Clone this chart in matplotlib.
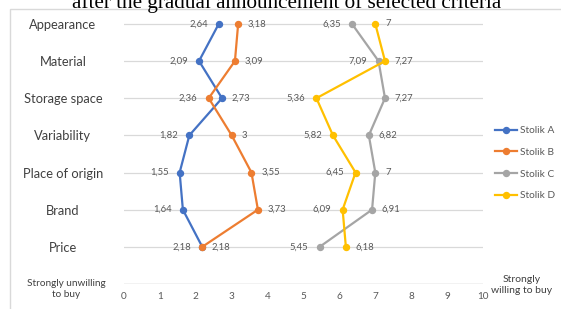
import matplotlib.pyplot as plt

# criteria (top to bottom) and mean scores per table
criteria = ['Appearance', 'Material', 'Storage space', 'Variability',
            'Place of origin', 'Brand', 'Price']
stolik_a = [2.64, 2.09, 2.73, 1.82, 1.55, 1.64, 2.18]
stolik_b = [3.18, 3.09, 2.36, 3.00, 3.55, 3.73, 2.18]
stolik_c = [6.35, 7.09, 7.27, 6.82, 7.00, 6.91, 5.45]
stolik_d = [7.00, 7.27, 5.36, 5.82, 6.45, 6.09, 6.18]
series_names = ['Stolik A', 'Stolik B', 'Stolik C', 'Stolik D']
x_ticks = list(range(0, 11))

colors = ['#4472C4', '#ED7D31', '#A5A5A5', '#FFC000']
# which side of the point each data label sits on
sides = [
    ['L', 'L', 'R', 'L', 'L', 'L', 'L'],
    ['R', 'R', 'L', 'R', 'R', 'R', 'R'],
    ['L', 'L', 'R', 'R', 'R', 'R', 'L'],
    ['R', 'R', 'L', 'L', 'L', 'L', 'R'],
]

plt.rcParams['font.family'] = ['Lato', 'DejaVu Sans']

fig = plt.figure(figsize=(5.61, 3.09), dpi=100)
ax = fig.add_axes([124 / 561, 25 / 309, 359 / 561, 275 / 309])

ypos = list(range(len(criteria), 0, -1))

# light horizontal gridlines at each criterion
for y in ypos:
    ax.axhline(y, color='#D9D9D9', lw=0.9, zorder=0)
ax.axhline(0, color='#BFBFBF', lw=1.0, zorder=0)

all_series = [stolik_a, stolik_b, stolik_c, stolik_d]
for vals, name, col, sd in zip(all_series, series_names, colors, sides):
    ax.plot(vals, ypos, color=col, lw=1.6, marker='o', markersize=4.3,
            label=name, zorder=3)
    for v, y, s in zip(vals, ypos, sd):
        txt = ('%g' % v).replace('.', ',')
        if s == 'L':
            ax.annotate(txt, (v, y), xytext=(-8, 0), textcoords='offset points',
                        ha='right', va='center', fontsize=6.8, color='#595959')
        else:
            ax.annotate(txt, (v, y), xytext=(7, 0), textcoords='offset points',
                        ha='left', va='center', fontsize=6.8, color='#595959')

ax.set_xlim(0, 10)
ax.set_ylim(0, 7.4)
ax.set_xticks(x_ticks)
ax.tick_params(axis='x', length=0, pad=6, labelsize=7.2, labelcolor='#595959')
ax.set_yticks(ypos)
ax.set_yticklabels(criteria, ha='center', fontsize=9.3, color='#404040')
ax.tick_params(axis='y', length=0, pad=44)
for sp in ax.spines.values():
    sp.set_visible(False)

fig.text(66 / 561, 1 - 289 / 309, 'Strongly unwilling\nto buy', ha='center',
         va='center', fontsize=7.2, color='#404040', linespacing=1.25)
fig.text(522 / 561, 1 - 285 / 309, 'Strongly\nwilling to buy', ha='center',
         va='center', fontsize=7.5, color='#404040', linespacing=1.25)

ax.legend(loc='upper left', bbox_to_anchor=(491 / 561, 1 - 122 / 309),
          bbox_transform=fig.transFigure, frameon=False, fontsize=7.3,
          handlelength=2.2, labelspacing=1.25, labelcolor='#595959',
          handletextpad=0.3, borderaxespad=0)

# chart frame and cut-off title
fig.patches.append(plt.Rectangle((10 / 561, -0.05), 1, 1 - 9 / 309 + 0.05,
                                 transform=fig.transFigure, fill=False,
                                 edgecolor='#D9D9D9', lw=1.0))
fig.text(287 / 561, 1 - 8 / 309, 'after the gradual announcement of selected criteria',
         ha='center', va='baseline', fontsize=15.2, family='Liberation Serif',
         color='black')

fig.savefig('out.png', dpi=100)
